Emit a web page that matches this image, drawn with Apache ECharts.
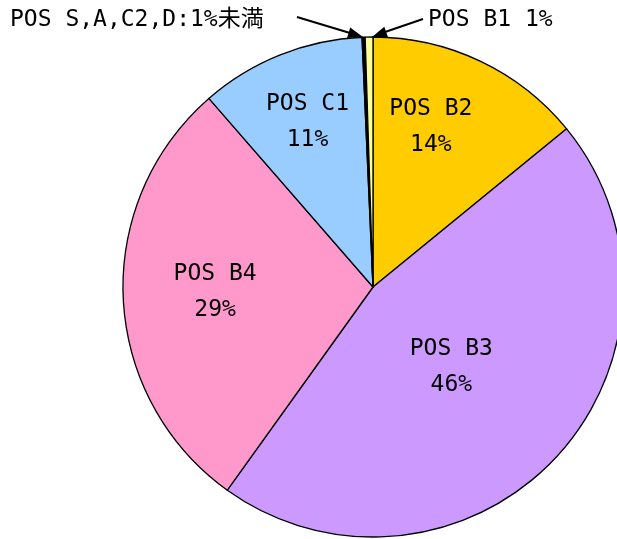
<!DOCTYPE html>
<html>
<head>
<meta charset="utf-8">
<script src="https://cdn.jsdelivr.net/npm/echarts@6/dist/echarts.min.js"></script>
<style>
html, body { margin: 0; padding: 0; background: #fff; }
#chart { width: 617px; height: 539px; }
</style>
</head>
<body>
<div id="chart"></div>
<script>
// 区分（時計回り、12時から）
var categories = ['POS B2', 'POS B3', 'POS B4', 'POS C1', 'POS S,A,C2,D', 'POS B1'];
var shares = [14.1, 45.8, 28.7, 10.7, 0.2, 0.5];
var colors = ['#FFCC00', '#CC99FF', '#FF99CC', '#99CCFF', '#000000', '#FFFF99'];
// 小さい区分の注記
var noteLeft = 'POS S,A,C2,D:1%未満';
var noteRight = 'POS B1 1%';
// ラベルの位置調整
var labelShift = [[3, -44], [-15, -8], [-30, -1], [-18, -46], [0, 0], [0, 0]];

var FONT = '"DejaVu Sans Mono", "Noto Sans CJK JP", monospace';

var pieData = [];
for (var i = 0; i < categories.length; i++) {
    pieData.push({
        name: categories[i],
        value: shares[i],
        itemStyle: {color: colors[i]},
        label: {show: i < 4}
    });
}

var arrowHead = function (x1, y1, x2, y2) {
    var ang = Math.atan2(y2 - y1, x2 - x1);
    var len = 15, half = 5.5;
    var bx = x2 - len * Math.cos(ang), by = y2 - len * Math.sin(ang);
    return [[x2, y2],
        [bx + half * Math.sin(ang), by - half * Math.cos(ang)],
        [bx - half * Math.sin(ang), by + half * Math.cos(ang)]];
};

var chart = echarts.init(document.getElementById('chart'));
chart.setOption({
    animation: false,
    backgroundColor: '#fff',
    series: [{
        type: 'pie',
        center: [373, 287],
        radius: 250,
        startAngle: 90,
        clockwise: true,
        percentPrecision: 0,
        avoidLabelOverlap: false,
        itemStyle: {borderColor: '#000', borderWidth: 1.3},
        label: {
            position: 'inside',
            formatter: '{b}\n{d}%',
            fontFamily: FONT,
            fontSize: 23,
            lineHeight: 36,
            color: '#000',
            align: 'center'
        },
        labelLayout: function (params) {
            var s = labelShift[params.dataIndex];
            return {dx: s[0], dy: s[1]};
        },
        emphasis: {disabled: true},
        data: pieData
    }],
    graphic: [
        {type: 'text', left: 10, top: 9, style: {text: noteLeft, fontFamily: FONT, fontSize: 23, fill: '#000'}},
        {type: 'text', left: 428, top: 9, style: {text: noteRight, fontFamily: FONT, fontSize: 23, fill: '#000'}},
        {type: 'line', shape: {x1: 297, y1: 17, x2: 350, y2: 33}, style: {stroke: '#000', lineWidth: 2}},
        {type: 'polygon', shape: {points: arrowHead(297, 17, 363, 37)}, style: {fill: '#000'}},
        {type: 'line', shape: {x1: 423, y1: 19, x2: 385, y2: 32}, style: {stroke: '#000', lineWidth: 2}},
        {type: 'polygon', shape: {points: arrowHead(423, 19, 372, 37)}, style: {fill: '#000'}}
    ]
});
</script>
</body>
</html>
